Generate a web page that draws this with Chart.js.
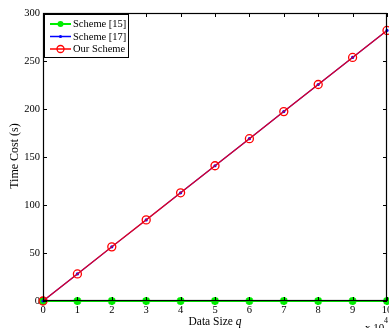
<!DOCTYPE html>
<html>
<head>
<meta charset="utf-8">
<script src="https://cdn.jsdelivr.net/npm/chart.js@4.4.0/dist/chart.umd.min.js"></script>
<style>
    html, body { margin: 0; padding: 0; background: #fff; }
    #wrap { width: 389px; height: 328px; position: relative; }
</style>
</head>
<body>
<div id="wrap"><canvas id="timeChart" width="389" height="328"></canvas></div>
<script>
// values
const dataSize = [0, 1, 2, 3, 4, 5, 6, 7, 8, 9, 10];           // x 10^4
const scheme15 = [0, 0, 0, 0, 0, 0, 0, 0, 0, 0, 0];
const scheme17 = [0, 28.2, 56.4, 84.5, 112.7, 140.9, 169.1, 197.3, 225.5, 253.7, 281.8];
const ourScheme = [0, 28.2, 56.4, 84.5, 112.7, 140.9, 169.1, 197.3, 225.5, 253.7, 281.8];
const yTicks = [0, 50, 100, 150, 200, 250, 300];
const xTicks = [0, 1, 2, 3, 4, 5, 6, 7, 8, 9, 10];

const FONT = '"Liberation Serif", "Times New Roman", serif';
const GREEN = '#00ee00';
const BLUE = '#0000ff';
const RED = '#ff0000';

function toPoints(ys) {
    return dataSize.map((x, i) => ({ x: x, y: ys[i] }));
}

// matlab style box, inward ticks, legend and axis labels
const matlabFrame = {
    id: 'matlabFrame',
    afterDatasetsDraw(chart) {
        const ctx = chart.ctx;
        const a = chart.chartArea;
        const xs = chart.scales.x;
        const ys = chart.scales.y;
        ctx.save();
        ctx.strokeStyle = '#000';
        ctx.lineWidth = 1;
        ctx.beginPath();
        xTicks.forEach(v => {
            const px = Math.round(xs.getPixelForValue(v)) + 0.5;
            ctx.moveTo(px, a.bottom); ctx.lineTo(px, a.bottom - 4);
            ctx.moveTo(px, a.top); ctx.lineTo(px, a.top + 4);
        });
        yTicks.forEach(v => {
            const py = Math.round(ys.getPixelForValue(v)) + 0.5;
            ctx.moveTo(a.left, py); ctx.lineTo(a.left + 4, py);
            ctx.moveTo(a.right, py); ctx.lineTo(a.right - 4, py);
        });
        ctx.stroke();
        ctx.lineWidth = 1.2;
        ctx.strokeRect(a.left + 0.5, a.top + 0.5, a.right - a.left - 1, a.bottom - a.top - 1);

        // x tick labels
        ctx.fillStyle = '#000';
        ctx.font = '10.5px ' + FONT;
        ctx.textAlign = 'center';
        ctx.textBaseline = 'top';
        xTicks.forEach(v => {
            ctx.fillText(String(v), xs.getPixelForValue(v), a.bottom + 4);
        });

        // legend box
        const lx = a.left + 1, ly = a.top + 1, lw = 84, lh = 43;
        ctx.fillStyle = '#fff';
        ctx.fillRect(lx, ly, lw, lh);
        ctx.lineWidth = 1;
        ctx.strokeRect(lx + 0.5, ly + 0.5, lw, lh);
        const entries = [
            { label: 'Scheme [15]', color: GREEN, mark: 'star' },
            { label: 'Scheme [17]', color: BLUE, mark: 'dot' },
            { label: 'Our Scheme', color: RED, mark: 'circle' }
        ];
        ctx.font = '10.5px ' + FONT;
        ctx.textBaseline = 'middle';
        entries.forEach((e, i) => {
            const y = ly + 10 + i * 12.5;
            const x0 = lx + 6, x1 = lx + 27, xm = (x0 + x1) / 2;
            ctx.strokeStyle = e.color;
            ctx.lineWidth = e.mark === 'star' ? 2 : 1.5;
            ctx.beginPath(); ctx.moveTo(x0, y); ctx.lineTo(x1, y); ctx.stroke();
            if (e.mark === 'star') {
                ctx.fillStyle = GREEN;
                ctx.beginPath(); ctx.arc(xm, y, 3, 0, Math.PI * 2); ctx.fill();
            } else if (e.mark === 'dot') {
                ctx.fillStyle = BLUE;
                ctx.beginPath(); ctx.arc(xm, y, 1.6, 0, Math.PI * 2); ctx.fill();
            } else {
                ctx.lineWidth = 1.3;
                ctx.beginPath(); ctx.arc(xm, y, 3.5, 0, Math.PI * 2); ctx.stroke();
            }
            ctx.fillStyle = '#000';
            ctx.textAlign = 'left';
            ctx.fillText(e.label, x1 + 2, y + 0.5);
        });

        // axis titles
        ctx.fillStyle = '#000';
        ctx.textBaseline = 'alphabetic';
        const t1 = 'Data Size ';
        ctx.font = 'italic 11.5px ' + FONT;
        const wq = ctx.measureText('q').width;
        ctx.font = '11.5px ' + FONT;
        const w1 = ctx.measureText(t1).width;
        const tx = 215 - (w1 + wq) / 2;
        ctx.textAlign = 'left';
        ctx.fillText(t1, tx, 325);
        ctx.font = 'italic 11.5px ' + FONT;
        ctx.fillText('q', tx + w1, 325);

        ctx.font = '11px ' + FONT;
        ctx.fillText('x 10', 365, 331);
        ctx.font = '8px ' + FONT;
        ctx.fillText('4', 384, 323);

        ctx.save();
        ctx.translate(18, 156);
        ctx.rotate(-Math.PI / 2);
        ctx.font = '12px ' + FONT;
        ctx.textAlign = 'center';
        ctx.fillText('Time Cost (s)', 0, 0);
        ctx.restore();
        ctx.restore();
    }
};

const ctx = document.getElementById('timeChart').getContext('2d');
new Chart(ctx, {
    type: 'line',
    data: {
        datasets: [
            {
                label: 'Scheme [15]',
                data: toPoints(scheme15),
                borderColor: GREEN,
                backgroundColor: GREEN,
                borderWidth: 2.2,
                pointStyle: 'star',
                pointRadius: 4,
                pointBorderWidth: 2.5,
                pointBorderColor: GREEN,
                order: 3
            },
            {
                label: 'Scheme [17]',
                data: toPoints(scheme17),
                borderColor: BLUE,
                backgroundColor: BLUE,
                borderWidth: 1.2,
                pointStyle: 'circle',
                pointRadius: 1.6,
                pointBorderWidth: 0,
                order: 2
            },
            {
                label: 'Our Scheme',
                data: toPoints(ourScheme),
                borderColor: 'rgba(255,0,0,0.85)',
                backgroundColor: 'rgba(0,0,0,0)',
                borderWidth: 1.3,
                pointStyle: 'circle',
                pointRadius: 4,
                pointBorderWidth: 1.3,
                pointBorderColor: RED,
                order: 1
            }
        ]
    },
    options: {
        responsive: false,
        animation: false,
        clip: false,
        layout: { autoPadding: false, padding: { top: 13, right: 2, left: 0, bottom: 0 } },
        plugins: {
            legend: { display: false },
            tooltip: { enabled: false }
        },
        scales: {
            x: {
                type: 'linear',
                min: 0,
                max: 10,
                afterBuildTicks: s => { s.ticks = xTicks.map(v => ({ value: v })); },
                afterFit: s => { s.height = 27; s.paddingLeft = 0; s.paddingRight = 0; },
                grid: { display: false, drawTicks: false },
                border: { display: false },
                ticks: { display: false }
            },
            y: {
                min: 0,
                max: 300,
                afterBuildTicks: s => { s.ticks = yTicks.map(v => ({ value: v })); },
                afterFit: s => { s.width = 43; s.paddingTop = 0; s.paddingBottom = 0; },
                grid: { display: false, drawTicks: false },
                border: { display: false },
                ticks: { color: '#000', font: { family: FONT, size: 10.5 }, padding: 3 }
            }
        }
    },
    plugins: [matlabFrame]
});
</script>
</body>
</html>
